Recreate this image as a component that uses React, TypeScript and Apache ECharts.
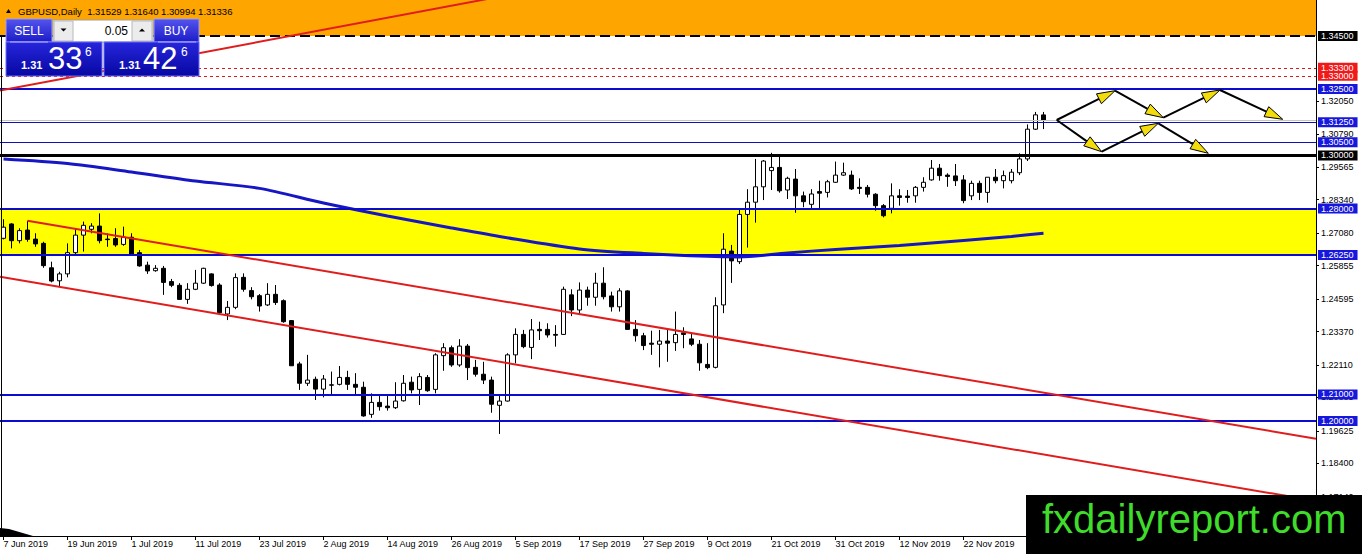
import React, { useEffect, useRef } from "react";
import * as echarts from "echarts";

// ---------- DATA ----------
// Daily GBPUSD candles [open, close, low, high]; bar 0 = 7 Jun 2019
const OHLC: [number, number, number, number][] = [
  [1.2688, 1.2730, 1.2684, 1.2760], [1.2742, 1.2679, 1.2650, 1.2745], [1.2679, 1.2717, 1.2669, 1.2726],
  [1.2719, 1.2684, 1.2675, 1.2754], [1.2685, 1.2667, 1.2656, 1.2707], [1.2669, 1.2585, 1.2577, 1.2675],
  [1.2577, 1.2527, 1.2522, 1.2600], [1.2528, 1.2554, 1.2504, 1.2562], [1.2554, 1.2634, 1.2541, 1.2669],
  [1.2634, 1.2700, 1.2629, 1.2726], [1.2700, 1.2737, 1.2638, 1.2751], [1.2722, 1.2734, 1.2707, 1.2745],
  [1.2734, 1.2679, 1.2669, 1.2782], [1.2685, 1.2683, 1.2656, 1.2707], [1.2687, 1.2663, 1.2656, 1.2726],
  [1.2665, 1.2692, 1.2660, 1.2732], [1.2692, 1.2628, 1.2625, 1.2707], [1.2634, 1.2584, 1.2581, 1.2644],
  [1.2587, 1.2565, 1.2554, 1.2600], [1.2566, 1.2575, 1.2562, 1.2587], [1.2575, 1.2522, 1.2475, 1.2584],
  [1.2525, 1.2511, 1.2504, 1.2535], [1.2511, 1.2458, 1.2456, 1.2519], [1.2458, 1.2496, 1.2441, 1.2519],
  [1.2496, 1.2519, 1.2493, 1.2569], [1.2519, 1.2575, 1.2516, 1.2577], [1.2554, 1.2510, 1.2506, 1.2556],
  [1.2512, 1.2408, 1.2399, 1.2519], [1.2403, 1.2428, 1.2380, 1.2452], [1.2428, 1.2540, 1.2421, 1.2556],
  [1.2541, 1.2496, 1.2487, 1.2556], [1.2491, 1.2468, 1.2458, 1.2504], [1.2472, 1.2433, 1.2412, 1.2478],
  [1.2437, 1.2477, 1.2433, 1.2519], [1.2477, 1.2446, 1.2437, 1.2512], [1.2453, 1.2374, 1.2370, 1.2458],
  [1.2378, 1.2208, 1.2207, 1.2380], [1.2215, 1.2142, 1.2117, 1.2223], [1.2142, 1.2154, 1.2132, 1.2249],
  [1.2157, 1.2120, 1.2079, 1.2167], [1.2120, 1.2158, 1.2089, 1.2173], [1.2136, 1.2135, 1.2098, 1.2186],
  [1.2138, 1.2164, 1.2134, 1.2207], [1.2164, 1.2138, 1.2117, 1.2189], [1.2138, 1.2127, 1.2094, 1.2180],
  [1.2127, 1.2019, 1.2016, 1.2148], [1.2025, 1.2070, 1.2012, 1.2104], [1.2070, 1.2054, 1.2039, 1.2098],
  [1.2056, 1.2050, 1.2039, 1.2098], [1.2050, 1.2075, 1.2045, 1.2146], [1.2076, 1.2142, 1.2073, 1.2173],
  [1.2146, 1.2117, 1.2104, 1.2167], [1.2119, 1.2167, 1.2060, 1.2180], [1.2164, 1.2114, 1.2110, 1.2173],
  [1.2119, 1.2249, 1.2104, 1.2255], [1.2246, 1.2276, 1.2189, 1.2293], [1.2276, 1.2211, 1.2204, 1.2284],
  [1.2211, 1.2282, 1.2204, 1.2308], [1.2282, 1.2201, 1.2154, 1.2290], [1.2202, 1.2176, 1.2167, 1.2230],
  [1.2176, 1.2154, 1.2139, 1.2223], [1.2154, 1.2063, 1.2031, 1.2167], [1.2059, 1.2075, 1.1951, 1.2098],
  [1.2075, 1.2249, 1.2073, 1.2255], [1.2249, 1.2326, 1.2217, 1.2349], [1.2326, 1.2280, 1.2274, 1.2343],
  [1.2277, 1.2343, 1.2233, 1.2384], [1.2345, 1.2340, 1.2305, 1.2374], [1.2345, 1.2324, 1.2314, 1.2368],
  [1.2326, 1.2323, 1.2280, 1.2361], [1.2326, 1.2496, 1.2324, 1.2506], [1.2475, 1.2418, 1.2395, 1.2496],
  [1.2418, 1.2493, 1.2399, 1.2522], [1.2493, 1.2466, 1.2434, 1.2506], [1.2466, 1.2519, 1.2434, 1.2558],
  [1.2519, 1.2468, 1.2458, 1.2579], [1.2471, 1.2430, 1.2412, 1.2487], [1.2430, 1.2490, 1.2412, 1.2500],
  [1.2490, 1.2345, 1.2343, 1.2493], [1.2345, 1.2321, 1.2299, 1.2380], [1.2321, 1.2284, 1.2267, 1.2332],
  [1.2293, 1.2289, 1.2249, 1.2340], [1.2289, 1.2301, 1.2202, 1.2343], [1.2301, 1.2293, 1.2223, 1.2343],
  [1.2295, 1.2326, 1.2264, 1.2412], [1.2332, 1.2326, 1.2274, 1.2353], [1.2309, 1.2289, 1.2282, 1.2328],
  [1.2289, 1.2219, 1.2189, 1.2305], [1.2213, 1.2201, 1.2195, 1.2293], [1.2202, 1.2434, 1.2198, 1.2466],
  [1.2437, 1.2647, 1.2406, 1.2707], [1.2640, 1.2603, 1.2520, 1.2663], [1.2600, 1.2778, 1.2591, 1.2795],
  [1.2778, 1.2824, 1.2653, 1.2873], [1.2824, 1.2882, 1.2747, 1.2987], [1.2882, 1.2979, 1.2832, 1.2983],
  [1.2943, 1.2955, 1.2870, 1.3010], [1.2955, 1.2867, 1.2860, 1.3002], [1.2870, 1.2914, 1.2836, 1.2920],
  [1.2911, 1.2848, 1.2784, 1.2949], [1.2848, 1.2826, 1.2805, 1.2864], [1.2816, 1.2855, 1.2801, 1.2873],
  [1.2864, 1.2858, 1.2801, 1.2905], [1.2861, 1.2901, 1.2842, 1.2908], [1.2899, 1.2926, 1.2897, 1.2977],
  [1.2926, 1.2935, 1.2923, 1.2973], [1.2926, 1.2874, 1.2870, 1.2943], [1.2880, 1.2876, 1.2855, 1.2914],
  [1.2880, 1.2854, 1.2842, 1.2889], [1.2854, 1.2811, 1.2792, 1.2858], [1.2811, 1.2773, 1.2767, 1.2817],
  [1.2801, 1.2848, 1.2782, 1.2895], [1.2848, 1.2842, 1.2811, 1.2873], [1.2847, 1.2842, 1.2822, 1.2870],
  [1.2848, 1.2880, 1.2822, 1.2885], [1.2880, 1.2899, 1.2864, 1.2918], [1.2908, 1.2952, 1.2905, 1.2983],
  [1.2952, 1.2924, 1.2905, 1.2968], [1.2926, 1.2921, 1.2882, 1.2933], [1.2923, 1.2905, 1.2885, 1.2968],
  [1.2908, 1.2830, 1.2820, 1.2926], [1.2848, 1.2895, 1.2832, 1.2905], [1.2895, 1.2861, 1.2832, 1.2905],
  [1.2861, 1.2918, 1.2822, 1.2918], [1.2918, 1.2905, 1.2895, 1.2949], [1.2905, 1.2924, 1.2876, 1.2943],
  [1.2905, 1.2937, 1.2895, 1.2949], [1.2935, 1.2987, 1.2926, 1.3008], [1.2987, 1.3099, 1.2979, 1.3117],
  [1.3099, 1.3153, 1.3096, 1.3164], [1.31529, 1.31336, 1.30994, 1.31640],
];

const DATE_LABEL_BARS = [0, 8, 16, 24, 32, 40, 48, 56, 64, 72, 80, 88, 96, 104, 112, 120, 128];
const DATE_LABELS = [
  "7 Jun 2019", "19 Jun 2019", "1 Jul 2019", "11 Jul 2019", "23 Jul 2019", "2 Aug 2019",
  "14 Aug 2019", "26 Aug 2019", "5 Sep 2019", "17 Sep 2019", "27 Sep 2019", "9 Oct 2019",
  "21 Oct 2019", "31 Oct 2019", "12 Nov 2019", "22 Nov 2019", "4 Dec 2019",
];

// moving average readings (bar, price)
const MA_BARS = [0, 8, 16, 24, 32, 40, 48, 56, 62, 72, 80, 88, 92, 98, 104, 112, 120, 126, 130];
const MA_VALUES = [1.2987, 1.2970, 1.2938, 1.2904, 1.2876, 1.2821, 1.2772, 1.2727, 1.2695, 1.2648,
  1.2631, 1.2620, 1.2618, 1.2633, 1.2646, 1.2661, 1.2680, 1.2695, 1.2707];

// trend lines: anchor points (bar, price)
const TREND_CHANNEL_TOP = [[3, 1.2754], [164.0625, 1.1933]];
const TREND_CHANNEL_BOTTOM = [[-0.4375, 1.25434], [164.0625, 1.16988]];
const TREND_RISING = [[-0.4375, 1.32444], [74.56, 1.36692]];

// projected path arrows [fromBar, fromPrice, toBar, toPrice]
const ARROWS = [
  [131.65, 1.31336, 138.94, 1.3244], [138.94, 1.3244, 144.98, 1.31423],
  [144.98, 1.31423, 152.06, 1.32466], [152.06, 1.32466, 159.9, 1.31363],
  [131.65, 1.31336, 137.27, 1.30142], [137.27, 1.30142, 144.35, 1.31212],
  [144.35, 1.31212, 150.6, 1.30082],
];

const LEVELS = [1.345, 1.33, 1.333, 1.325, 1.3125, 1.305, 1.3, 1.28, 1.2625, 1.21, 1.2];
const BID = 1.31336;
const Y_TICKS = [1.3205, 1.3079, 1.29565, 1.2834, 1.2708, 1.25855, 1.24595, 1.2337, 1.2211, 1.20885, 1.19625, 1.184, 1.1714];
const Y_MAX = 1.358559;
const Y_MIN = 1.156676;
const X_MIN = -0.4375;
const X_MAX = 164.0625;

const TITLE = "GBPUSD,Daily  1.31529 1.31640 1.30994 1.31336";

// ---------- STYLES ----------
const FONT = "'Liberation Sans', Arial, sans-serif";
const BLUE = "#0c0cd0";
const LEVEL_KIND = ["blackDash", "red", "red", "blue", "blueThin", "blueThin", "black", "blue", "blue", "blue", "blue"];
const KIND_STYLE: Record<string, any> = {
  blackDash: { color: "#000", width: 2, type: [10, 5], bg: "#000" },
  red: { color: "#e01818", width: 1, type: [3, 3], bg: "#f01818" },
  blue: { color: BLUE, width: 2, type: "solid", bg: "#1616dd" },
  blueThin: { color: "#1010b8", width: 1, type: "solid", bg: "#1616dd" },
  black: { color: "#000", width: 3, type: "solid", bg: "#000" },
};

export default function App() {
  const ref = useRef<HTMLDivElement>(null);
  useEffect(() => {
    if (!ref.current) return;
    const chart = echarts.init(ref.current, undefined, { renderer: "svg" });
    const G = echarts.graphic as any;
    const headGrad = new G.LinearGradient(0, 0, 0, 1, [
      { offset: 0, color: "#5454ee" }, { offset: 1, color: "#1c1cc8" },
    ]);
    const priceGrad = new G.LinearGradient(0, 0, 0, 1, [
      { offset: 0, color: "#2626dc" }, { offset: 1, color: "#0707a2" },
    ]);

    const markLineData: any[] = LEVELS.map((v, i) => {
      const s = KIND_STYLE[LEVEL_KIND[i]];
      return {
        yAxis: v,
        lineStyle: { color: s.color, width: s.width, type: s.type },
        label: {
          show: true, position: "end", distance: 2, formatter: v.toFixed(5),
          color: "#fff", backgroundColor: s.bg, padding: [1, 4, 0, 3],
          fontSize: 9, lineHeight: 9, fontFamily: FONT,
        },
      };
    });
    markLineData.unshift({
      yAxis: BID, lineStyle: { color: "#c4c4c4", width: 1, type: "solid" }, label: { show: false },
    });

    const trendSeries = (data: number[][]) => ({
      type: "line", data, symbol: "none", clip: true, silent: true,
      lineStyle: { color: "#e11c1c", width: 2 }, z: 6,
    });

    const textEl = (text: string, x: number, y: number, size: number, opts: any = {}) => ({
      type: "text", x, y, z: 101, silent: true,
      style: {
        text, fill: opts.fill || "#fff", fontSize: size, fontFamily: FONT,
        fontWeight: opts.weight || "normal", align: opts.align || "left", verticalAlign: "middle",
      },
    });

    const graphics: any[] = [
      // left frame
      { type: "line", z: 50, silent: true, shape: { x1: 1.5, y1: 36, x2: 1.5, y2: 536 }, style: { stroke: "#000", lineWidth: 1 } },
      { type: "polygon", z: 50, silent: true, shape: { points: [[0, 528], [9, 529], [33, 536], [0, 536]] }, style: { fill: "#000" } },
      // title
      { type: "polygon", z: 100, silent: true, shape: { points: [[6, 13], [11, 13], [8.5, 9]] }, style: { fill: "#000" } },
      textEl(TITLE, 18, 11, 9.5, { fill: "#000" }),
      // trade panel
      { type: "rect", z: 100, shape: { x: 6, y: 19, width: 46, height: 23 }, style: { fill: headGrad, stroke: "#9c9cff", lineWidth: 1 } },
      { type: "rect", z: 100, shape: { x: 154, y: 19, width: 45, height: 23 }, style: { fill: headGrad, stroke: "#9c9cff", lineWidth: 1 } },
      { type: "rect", z: 100, shape: { x: 53, y: 20, width: 100, height: 22 }, style: { fill: "#fff", stroke: "#a0a0a0", lineWidth: 1 } },
      { type: "rect", z: 100, shape: { x: 54, y: 21, width: 19, height: 20 }, style: { fill: "#ececec", stroke: "#b8b8b8", lineWidth: 1 } },
      { type: "rect", z: 100, shape: { x: 132, y: 21, width: 20, height: 20 }, style: { fill: "#ececec", stroke: "#b8b8b8", lineWidth: 1 } },
      { type: "polygon", z: 101, shape: { points: [[60.5, 28.5], [66.5, 28.5], [63.5, 31.5]] }, style: { fill: "#000" } },
      { type: "polygon", z: 101, shape: { points: [[139, 31.5], [145, 31.5], [142, 28.5]] }, style: { fill: "#000" } },
      textEl("0.05", 128, 31, 12, { fill: "#000", align: "right" }),
      textEl("SELL", 29, 31, 12, { align: "center" }),
      textEl("BUY", 176, 31, 12, { align: "center" }),
      { type: "rect", z: 100, shape: { x: 6, y: 42, width: 96, height: 34 }, style: { fill: priceGrad, stroke: "#6d6dff", lineWidth: 1 } },
      { type: "rect", z: 100, shape: { x: 104, y: 42, width: 95, height: 34 }, style: { fill: priceGrad, stroke: "#6d6dff", lineWidth: 1 } },
      { type: "line", z: 101, shape: { x1: 10, y1: 42, x2: 48, y2: 42 }, style: { stroke: "#b0b0ff", lineWidth: 1 } },
      { type: "line", z: 101, shape: { x1: 158, y1: 42, x2: 196, y2: 42 }, style: { stroke: "#b0b0ff", lineWidth: 1 } },
      textEl("1.31", 21, 64.5, 11, { weight: "bold" }),
      textEl("33", 48, 58, 31),
      textEl("6", 85, 52, 12),
      textEl("1.31", 119, 64.5, 11, { weight: "bold" }),
      textEl("42", 143, 58, 31),
      textEl("6", 181, 52, 12),
      // logo
      { type: "rect", z: 100, silent: true, shape: { x: 1026, y: 495, width: 336, height: 59 }, style: { fill: "#000" } },
      textEl("fxdailyreport.com", 1042, 519, 40, { fill: "#3fdc2b" }),
    ];

    const option: any = {
      animation: false,
      backgroundColor: "#fff",
      textStyle: { fontFamily: FONT },
      grid: { left: 0, right: 46, top: 0, bottom: 18, containLabel: false },
      xAxis: {
        type: "value", min: X_MIN, max: X_MAX,
        axisLine: { show: true, onZero: false, lineStyle: { color: "#000", width: 1 } },
        splitLine: { show: false },
        axisTick: { show: true, customValues: DATE_LABEL_BARS, length: 4, lineStyle: { color: "#000" } },
        axisLabel: {
          show: true, customValues: DATE_LABEL_BARS, align: "left", margin: 3,
          fontSize: 9, color: "#000", fontFamily: FONT,
          formatter: (v: number) => DATE_LABELS[DATE_LABEL_BARS.indexOf(Math.round(v))] || "",
        },
      },
      yAxis: {
        type: "value", position: "right", min: Y_MIN, max: Y_MAX,
        axisLine: { show: true, onZero: false, lineStyle: { color: "#000", width: 1 } },
        splitLine: { show: false },
        axisTick: { show: true, customValues: Y_TICKS, length: 3, lineStyle: { color: "#000" } },
        axisLabel: {
          show: true, customValues: Y_TICKS, margin: 5, fontSize: 9, color: "#000", fontFamily: FONT,
          formatter: (v: number) => v.toFixed(5),
        },
      },
      series: [
        {
          type: "candlestick",
          data: OHLC.map((r, i) => [i, r[0], r[1], r[2], r[3]]),
          encode: { x: 0, y: [1, 2, 3, 4] },
          barWidth: 4,
          z: 2,
          itemStyle: { color: "#fff", color0: "#000", borderColor: "#000", borderColor0: "#000", borderWidth: 1 },
          markArea: {
            silent: true,
            data: [
              [{ yAxis: 1.345, itemStyle: { color: "#ffa500", opacity: 1 } }, { yAxis: Y_MAX }],
              [{ yAxis: 1.2625, itemStyle: { color: "#ffff00", opacity: 1 } }, { yAxis: 1.28 }],
            ],
          },
        },
        {
          type: "line",
          data: MA_BARS.map((b, i) => [b, MA_VALUES[i]]),
          symbol: "none", silent: true, z: 3, smooth: 0.3,
          lineStyle: { color: "#1616c4", width: 3 },
        },
        {
          type: "line", data: [], silent: true, z: 4,
          markLine: { silent: true, precision: 6, symbol: ["none", "none"], data: markLineData },
        },
        trendSeries(TREND_CHANNEL_TOP),
        trendSeries(TREND_CHANNEL_BOTTOM),
        trendSeries(TREND_RISING),
        {
          type: "custom", data: ARROWS, z: 7, silent: true,
          encode: { x: [0, 2], y: [1, 3] },
          renderItem: (_p: any, api: any) => {
            const a = api.coord([api.value(0), api.value(1)]);
            const b = api.coord([api.value(2), api.value(3)]);
            const dx = b[0] - a[0];
            const dy = b[1] - a[1];
            const len = Math.sqrt(dx * dx + dy * dy) || 1;
            const ux = dx / len;
            const uy = dy / len;
            const hl = 18;
            const hw = 5.5;
            const bx = b[0] - ux * hl;
            const by = b[1] - uy * hl;
            return {
              type: "group",
              children: [
                { type: "line", shape: { x1: a[0], y1: a[1], x2: bx, y2: by }, style: { stroke: "#000", lineWidth: 2 } },
                {
                  type: "polygon",
                  shape: { points: [[b[0], b[1]], [bx - uy * hw, by + ux * hw], [bx + uy * hw, by - ux * hw]] },
                  style: { fill: "#f2dc0c", stroke: "#000", lineWidth: 1 },
                },
              ],
            };
          },
        },
      ],
      graphic: { elements: graphics },
    };
    chart.setOption(option);
    return () => chart.dispose();
  }, []);
  return (
    <div
      ref={ref}
      style={{ position: "fixed", left: 0, top: 0, width: 1362, height: 554, background: "#fff" }}
    />
  );
}
